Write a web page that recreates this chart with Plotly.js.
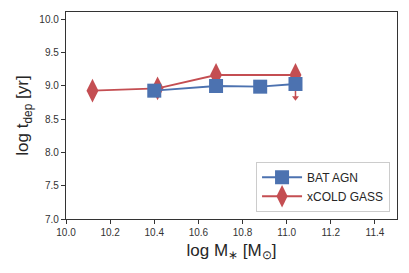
<!DOCTYPE html>
<html><head><meta charset="utf-8">
<script src="https://cdn.plot.ly/plotly-3.0.1.min.js"></script>
<style>html,body{margin:0;padding:0;background:#fff}#c{width:409px;height:273px}</style>
</head><body><div id="c"></div>
<script>
const batMass = [10.40, 10.68, 10.88, 11.04];
const batTdep = [8.925, 8.995, 8.985, 9.025];
const xcgMass = [10.12, 10.415, 10.68, 11.04];
const xcgTdep = [8.925, 8.96, 9.16, 9.16];
const xcgLimitIndex = 3;
const xcgLimitTo = 8.82;
const xTicks = [10.0, 10.2, 10.4, 10.6, 10.8, 11.0, 11.2, 11.4];
const yTicks = [7.0, 7.5, 8.0, 8.5, 9.0, 9.5, 10.0];

const blue = '#4C72B0', red = '#C44E52';
const errMinus = xcgTdep.map((v, i) => i === xcgLimitIndex ? v - xcgLimitTo : 0);
const traces = [
  {x: xcgMass, y: xcgTdep, name: 'xCOLD GASS', mode: 'lines+markers',
   line: {color: red, width: 1.8},
   marker: {symbol: 'diamond-tall', size: 17, color: red},
   error_y: {type: 'data', symmetric: false, array: xcgTdep.map(() => 0), arrayminus: errMinus,
     width: 0, thickness: 1.5, color: red}},
  {x: [xcgMass[xcgLimitIndex]], y: [xcgLimitTo], mode: 'markers', showlegend: false,
   marker: {symbol: 'triangle-down', size: 6, color: red}},
  {x: batMass, y: batTdep, name: 'BAT AGN', mode: 'lines+markers',
   line: {color: blue, width: 1.8},
   marker: {symbol: 'square', size: 14, color: blue}}
];
const layout = {
  width: 409, height: 273,
  margin: {l: 66, r: 12, t: 12, b: 54},
  paper_bgcolor: '#fff', plot_bgcolor: '#fff',
  font: {family: 'Liberation Sans, Arial, sans-serif', color: '#262626'},
  showlegend: true,
  legend: {x: 0.979, y: 0.035, xanchor: 'right', yanchor: 'bottom',
    traceorder: 'reversed', bordercolor: '#cccccc', borderwidth: 1, tracegroupgap: 0,
    bgcolor: 'rgba(255,255,255,0.9)', font: {size: 12, color: '#262626'},
    itemwidth: 40},
  xaxis: {range: [10.0, 11.5], tickvals: xTicks, ticktext: xTicks.map(v => v.toFixed(1)),
    ticks: 'outside', ticklen: 4, tickcolor: '#333', tickwidth: 1,
    tickfont: {size: 10, color: '#333'}, showgrid: false, zeroline: false,
    showline: true, linecolor: '#333', linewidth: 1.2, mirror: true,
    title: {text: 'log M<sub>∗</sub> [M<sub>⊙</sub>]', font: {size: 17, color: '#262626'}, standoff: 6}},
  yaxis: {range: [7.0, 10.105], tickvals: yTicks, ticktext: yTicks.map(v => v.toFixed(1)),
    ticks: 'outside', ticklen: 4, tickcolor: '#333', tickwidth: 1,
    tickfont: {size: 10, color: '#333'}, showgrid: false, zeroline: false,
    showline: true, linecolor: '#333', linewidth: 1.2, mirror: true,
    title: {text: 'log t<sub>dep</sub> [yr]', font: {size: 17, color: '#262626'}, standoff: 6}}
};
Plotly.newPlot('c', traces, layout, {staticPlot: true, displayModeBar: false});
</script></body></html>
